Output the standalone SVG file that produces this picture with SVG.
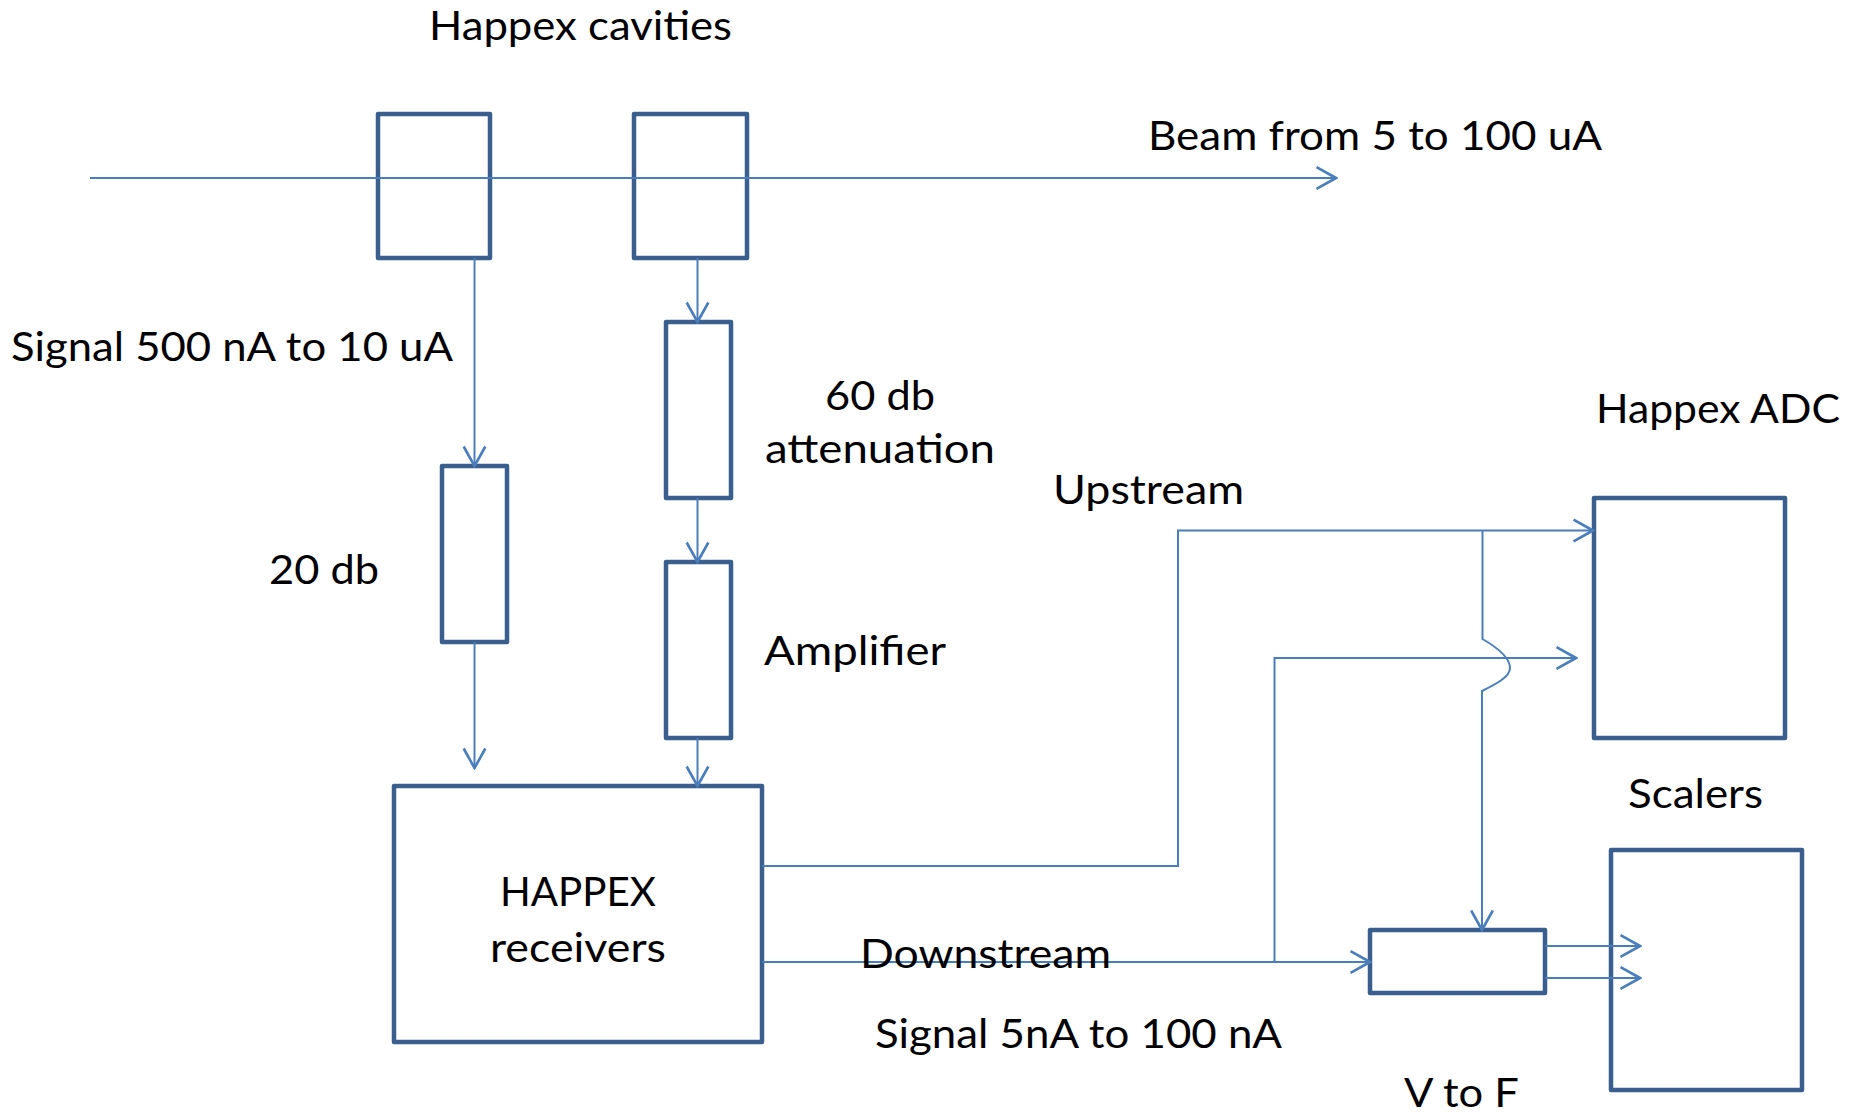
<svg xmlns="http://www.w3.org/2000/svg" width="1862" height="1117" viewBox="0 0 1862 1117">
<defs>
<style>
.box{fill:#ffffff;stroke:#3A5F8E;stroke-width:4.5;stroke-linejoin:round}
.ln{fill:none;stroke:#4A7EBB;stroke-width:2}
.arr{marker-end:url(#ah)}
text{font-family:Lato,"Open Sans","Liberation Sans",sans-serif;font-size:41px;fill:#000000}
</style>
<marker id="ah" markerUnits="userSpaceOnUse" markerWidth="24" markerHeight="26" viewBox="-20 -12 22 24" refX="0" refY="0" orient="auto">
<path d="M-18,-10 L0,0 L-18,10" fill="none" stroke="#4A7EBB" stroke-width="2.4"/>
</marker>
</defs>
<rect width="1862" height="1117" fill="#ffffff"/>

<g id="cavity1"><rect class="box" x="378" y="114" width="112" height="144"/></g>
<g id="cavity2"><rect class="box" x="634" y="114" width="113" height="144"/></g>
<g id="att20"><rect class="box" x="442" y="466" width="65" height="176"/></g>
<g id="att60"><rect class="box" x="666" y="322" width="65" height="176"/></g>
<g id="amplifier"><rect class="box" x="666" y="562" width="65" height="176"/></g>
<g id="receivers"><rect class="box" x="394" y="786" width="368" height="256"/>
<text x="500" y="905.7" textLength="156" lengthAdjust="spacingAndGlyphs">HAPPEX</text>
<text x="490" y="961.7" textLength="176" lengthAdjust="spacingAndGlyphs">receivers</text></g>
<g id="adc"><rect class="box" x="1594" y="498" width="191" height="240"/></g>
<g id="scalers"><rect class="box" x="1611" y="850" width="191" height="240"/></g>
<g id="vtof"><rect class="box" x="1370" y="930" width="175" height="63"/></g>

<g id="connectors">
<line class="ln arr" x1="90" y1="178" x2="1336" y2="178"/>
<line class="ln arr" x1="474.5" y1="258" x2="474.5" y2="466"/>
<line class="ln arr" x1="697.5" y1="258" x2="697.5" y2="322"/>
<line class="ln arr" x1="474.5" y1="642" x2="474.5" y2="768"/>
<line class="ln arr" x1="697.5" y1="498" x2="697.5" y2="562"/>
<line class="ln arr" x1="697.5" y1="738" x2="697.5" y2="786"/>
<polyline class="ln arr" points="762,866 1178,866 1178,530.5 1593,530.5"/>
<line class="ln arr" x1="762" y1="962" x2="1370" y2="962"/>
<polyline class="ln arr" points="1274.5,962 1274.5,658 1576,658"/>
<path class="ln arr" d="M1482.5,530.5 L1482.5,639 C1498,648 1510,658 1510,668 C1510,677 1496,684 1482,691 L1482,930"/>
<line class="ln arr" x1="1545" y1="946" x2="1640" y2="946"/>
<line class="ln arr" x1="1545" y1="978" x2="1640" y2="978"/>
</g>

<g id="labels">
<text x="429" y="39.5" textLength="303" lengthAdjust="spacingAndGlyphs">Happex cavities</text>
<text x="1148" y="150" textLength="454" lengthAdjust="spacingAndGlyphs">Beam from 5 to 100 uA</text>
<text x="11" y="360.7" textLength="442" lengthAdjust="spacingAndGlyphs">Signal 500 nA to 10 uA</text>
<text x="825" y="410" textLength="110" lengthAdjust="spacingAndGlyphs">60 db</text>
<text x="765" y="463" textLength="230" lengthAdjust="spacingAndGlyphs">attenuation</text>
<text x="269" y="584" textLength="110" lengthAdjust="spacingAndGlyphs">20 db</text>
<text x="764" y="665" textLength="182" lengthAdjust="spacingAndGlyphs">Amplifier</text>
<text x="1053" y="504" textLength="191" lengthAdjust="spacingAndGlyphs">Upstream</text>
<text x="1596" y="423.3" textLength="244" lengthAdjust="spacingAndGlyphs">Happex ADC</text>
<text x="1628" y="808" textLength="135" lengthAdjust="spacingAndGlyphs">Scalers</text>
<text x="860" y="968" textLength="251" lengthAdjust="spacingAndGlyphs">Downstream</text>
<text x="875" y="1048" textLength="407" lengthAdjust="spacingAndGlyphs">Signal 5nA to 100 nA</text>
<text x="1404" y="1107" textLength="115" lengthAdjust="spacingAndGlyphs">V to F</text>
</g>
</svg>
